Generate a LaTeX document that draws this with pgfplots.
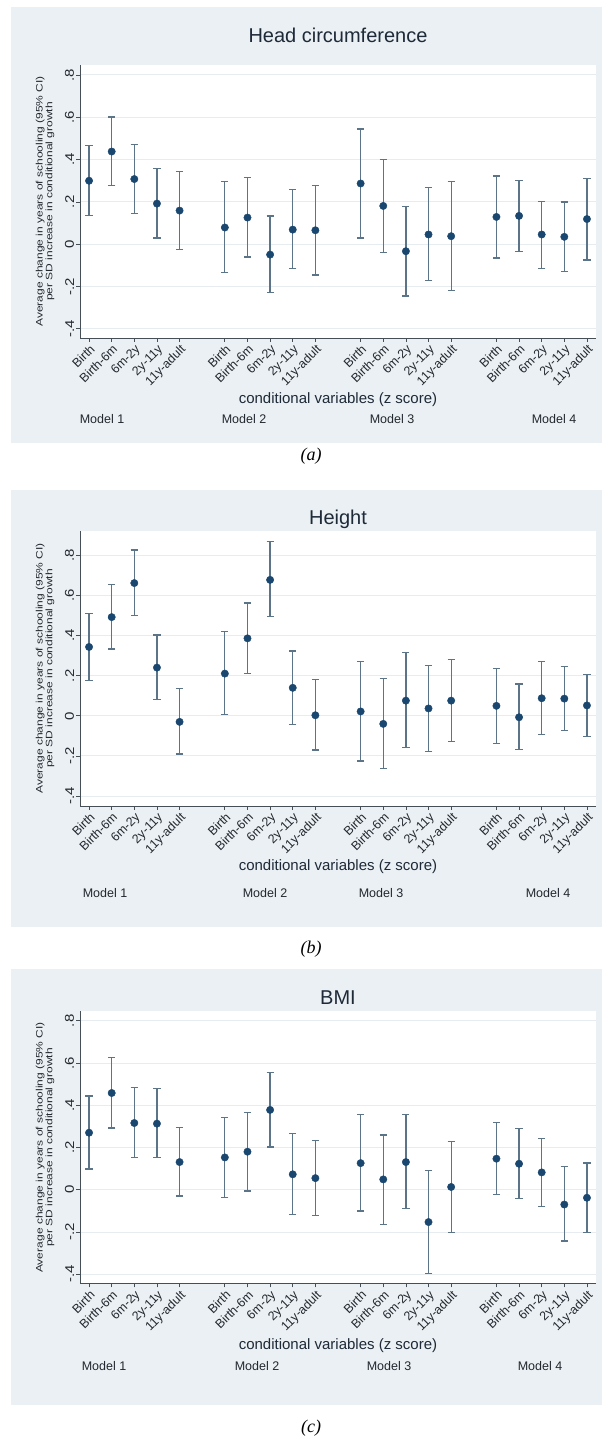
\documentclass[border=0pt]{standalone}
\usepackage{fontspec}
\setmainfont{Liberation Sans}
\newfontfamily\capfont{Liberation Serif}
\usepackage{graphicx}
\usepackage{pgfplots}
\usepackage{pgfplotstable}
\pgfplotsset{compat=1.18}
\definecolor{bgcol}{RGB}{234,240,243}
\definecolor{gridcol}{RGB}{230,236,240}
\definecolor{navy}{RGB}{26,71,111}
\definecolor{barcol}{RGB}{92,116,135}
\definecolor{axcol}{RGB}{70,78,86}
\definecolor{txtcol}{RGB}{35,40,48}
\definecolor{ttlcol}{RGB}{30,42,56}

\pgfplotstableread{
x y hi lo
0 0.300 0.465 0.137
1 0.438 0.601 0.276
2 0.308 0.472 0.145
3 0.192 0.358 0.030
4 0.159 0.344 -0.024
6 0.079 0.295 -0.134
7 0.126 0.315 -0.060
8 -0.049 0.134 -0.229
9 0.069 0.257 -0.115
10 0.066 0.278 -0.145
12 0.287 0.544 0.030
13 0.181 0.402 -0.038
14 -0.033 0.178 -0.244
15 0.046 0.267 -0.172
16 0.038 0.295 -0.218
18 0.129 0.322 -0.065
19 0.134 0.300 -0.033
20 0.046 0.203 -0.114
21 0.035 0.200 -0.129
22 0.119 0.311 -0.075
}\dataA

\pgfplotstableread{
x y hi lo
0 0.344 0.510 0.178
1 0.493 0.656 0.334
2 0.663 0.828 0.502
3 0.241 0.404 0.080
4 -0.030 0.136 -0.191
6 0.211 0.420 0.007
7 0.387 0.563 0.213
8 0.679 0.870 0.497
9 0.140 0.324 -0.042
10 0.003 0.181 -0.171
12 0.022 0.272 -0.226
13 -0.040 0.186 -0.262
14 0.076 0.316 -0.159
15 0.037 0.252 -0.179
16 0.076 0.282 -0.128
18 0.050 0.236 -0.138
19 -0.007 0.159 -0.168
20 0.088 0.271 -0.093
21 0.086 0.247 -0.073
22 0.052 0.208 -0.102
}\dataB

\pgfplotstableread{
x y hi lo
0 0.270 0.444 0.098
1 0.458 0.627 0.292
2 0.316 0.483 0.153
3 0.313 0.479 0.152
4 0.131 0.295 -0.030
6 0.153 0.343 -0.038
7 0.180 0.365 -0.006
8 0.378 0.556 0.202
9 0.073 0.265 -0.118
10 0.055 0.234 -0.122
12 0.126 0.355 -0.100
13 0.049 0.259 -0.163
14 0.131 0.355 -0.090
15 -0.153 0.090 -0.395
16 0.013 0.229 -0.201
18 0.147 0.318 -0.024
19 0.123 0.291 -0.043
20 0.082 0.242 -0.079
21 -0.070 0.109 -0.243
22 -0.038 0.126 -0.201
}\dataC

\newcommand{\sq}[1]{\scalebox{1}[0.85]{#1}}

\pgfplotsset{
  panel/.style={
    scale only axis, width=516pt, anchor=south west,
    xmin=-0.4, xmax=22.4,
    axis lines*=left, axis line style={axcol, line width=0.8pt},
    axis background/.style={fill=white},
    tick align=outside, xtick pos=left, ytick pos=left,
    major tick length=4pt, tick style={axcol, line width=0.8pt},
    xtick={0,1,2,3,4,6,7,8,9,10,12,13,14,15,16,18,19,20,21,22},
    xticklabels={Birth,Birth-6m,6m-2y,2y-11y,11y-adult,Birth,Birth-6m,6m-2y,2y-11y,11y-adult,Birth,Birth-6m,6m-2y,2y-11y,11y-adult,Birth,Birth-6m,6m-2y,2y-11y,11y-adult},
    xticklabel style={rotate=45, anchor=north east, font=\fontsize{12.5}{14}\selectfont, text=txtcol, inner sep=1.2pt},
    ytick={-0.4,-0.2,0,0.2,0.4,0.6,0.8},
    yticklabels={\sq{-.4},\sq{-.2},\sq{0},\sq{.2},\sq{.4},\sq{.6},\sq{.8}},
    yticklabel style={rotate=90, anchor=south, font=\fontsize{15}{17}\selectfont, text=txtcol, inner sep=1.8pt},
    ymajorgrids, grid style={gridcol, line width=0.9pt},
  },
  bars/.style={only marks, mark=none, forget plot,
    error bars/.cd, y dir=both, y explicit,
    error bar style={draw=barcol, line width=1.3pt},
    error mark options={rotate=90, draw=barcol, line width=1.3pt, mark size=3.6pt}},
  dots/.style={only marks, mark=*, mark size=3.7pt, mark options={fill=navy, draw=navy}},
}

\newcommand{\ylab}{\scalebox{1}[0.78]{\begin{tabular}{@{}c@{}}Average change in years of schooling (95\% CI)\\per SD increase in conditional growth\end{tabular}}}

\begin{document}
\begin{tikzpicture}[x=1pt,y=1pt]
\path[use as bounding box] (0,0) rectangle (602,1439);

% ---------- panel a ----------
\fill[bgcol] (11,996) rectangle (602,1432);
\begin{axis}[panel, at={(80pt,1101pt)}, height=273pt, ymin=-0.443, ymax=0.847]
\addplot[bars] table[x=x, y=y, y error plus expr=\thisrow{hi}-\thisrow{y}, y error minus expr=\thisrow{y}-\thisrow{lo}] {\dataA};
\addplot[dots] table[x=x, y=y] {\dataA};
\end{axis}
\node[text=ttlcol, font=\fontsize{20}{24}\selectfont] at (338,1404) {Head circumference};
\node[rotate=90, text=txtcol, font=\fontsize{12}{12}\selectfont] at (45.5,1237.5) {\ylab};
\node[text=ttlcol, font=\fontsize{15}{18}\selectfont] at (338,1039) {conditional variables (z score)};
\begin{scope}[every node/.style={text=txtcol, font=\fontsize{12.5}{14}\selectfont}]
\node at (102,1020) {Model 1};
\node at (244,1020) {Model 2};
\node at (392,1020) {Model 3};
\node at (554,1020) {Model 4};
\end{scope}
\node[font=\capfont\itshape\fontsize{18}{20}\selectfont] at (311,983) {(a)};

% ---------- panel b ----------
\fill[bgcol] (11,512) rectangle (602,949);
\begin{axis}[panel, at={(80pt,633pt)}, height=275pt, ymin=-0.45, ymax=0.923]
\addplot[bars] table[x=x, y=y, y error plus expr=\thisrow{hi}-\thisrow{y}, y error minus expr=\thisrow{y}-\thisrow{lo}] {\dataB};
\addplot[dots] table[x=x, y=y] {\dataB};
\end{axis}
\node[text=ttlcol, font=\fontsize{20}{24}\selectfont] at (338,920) {Height};
\node[rotate=90, text=txtcol, font=\fontsize{12}{12}\selectfont] at (45.5,770.5) {\ylab};
\node[text=ttlcol, font=\fontsize{15}{18}\selectfont] at (338,572) {conditional variables (z score)};
\begin{scope}[every node/.style={text=txtcol, font=\fontsize{12.5}{14}\selectfont}]
\node at (105,546) {Model 1};
\node at (265,546) {Model 2};
\node at (381,546) {Model 3};
\node at (548,546) {Model 4};
\end{scope}
\node[font=\capfont\itshape\fontsize{18}{20}\selectfont] at (311,490) {(b)};

% ---------- panel c ----------
\fill[bgcol] (11,34) rectangle (602,470);
\begin{axis}[panel, at={(80pt,155.5pt)}, height=272pt, ymin=-0.444, ymax=0.844]
\addplot[bars] table[x=x, y=y, y error plus expr=\thisrow{hi}-\thisrow{y}, y error minus expr=\thisrow{y}-\thisrow{lo}] {\dataC};
\addplot[dots] table[x=x, y=y] {\dataC};
\end{axis}
\node[text=ttlcol, font=\fontsize{20}{24}\selectfont] at (338,441) {BMI};
\node[rotate=90, text=txtcol, font=\fontsize{12}{12}\selectfont] at (45.5,291.5) {\ylab};
\node[text=ttlcol, font=\fontsize{15}{18}\selectfont] at (338,93) {conditional variables (z score)};
\begin{scope}[every node/.style={text=txtcol, font=\fontsize{12.5}{14}\selectfont}]
\node at (104,73) {Model 1};
\node at (257,73) {Model 2};
\node at (389,73) {Model 3};
\node at (540,73) {Model 4};
\end{scope}
\node[font=\capfont\itshape\fontsize{18}{20}\selectfont] at (311,11) {(c)};
\end{tikzpicture}
\end{document}
